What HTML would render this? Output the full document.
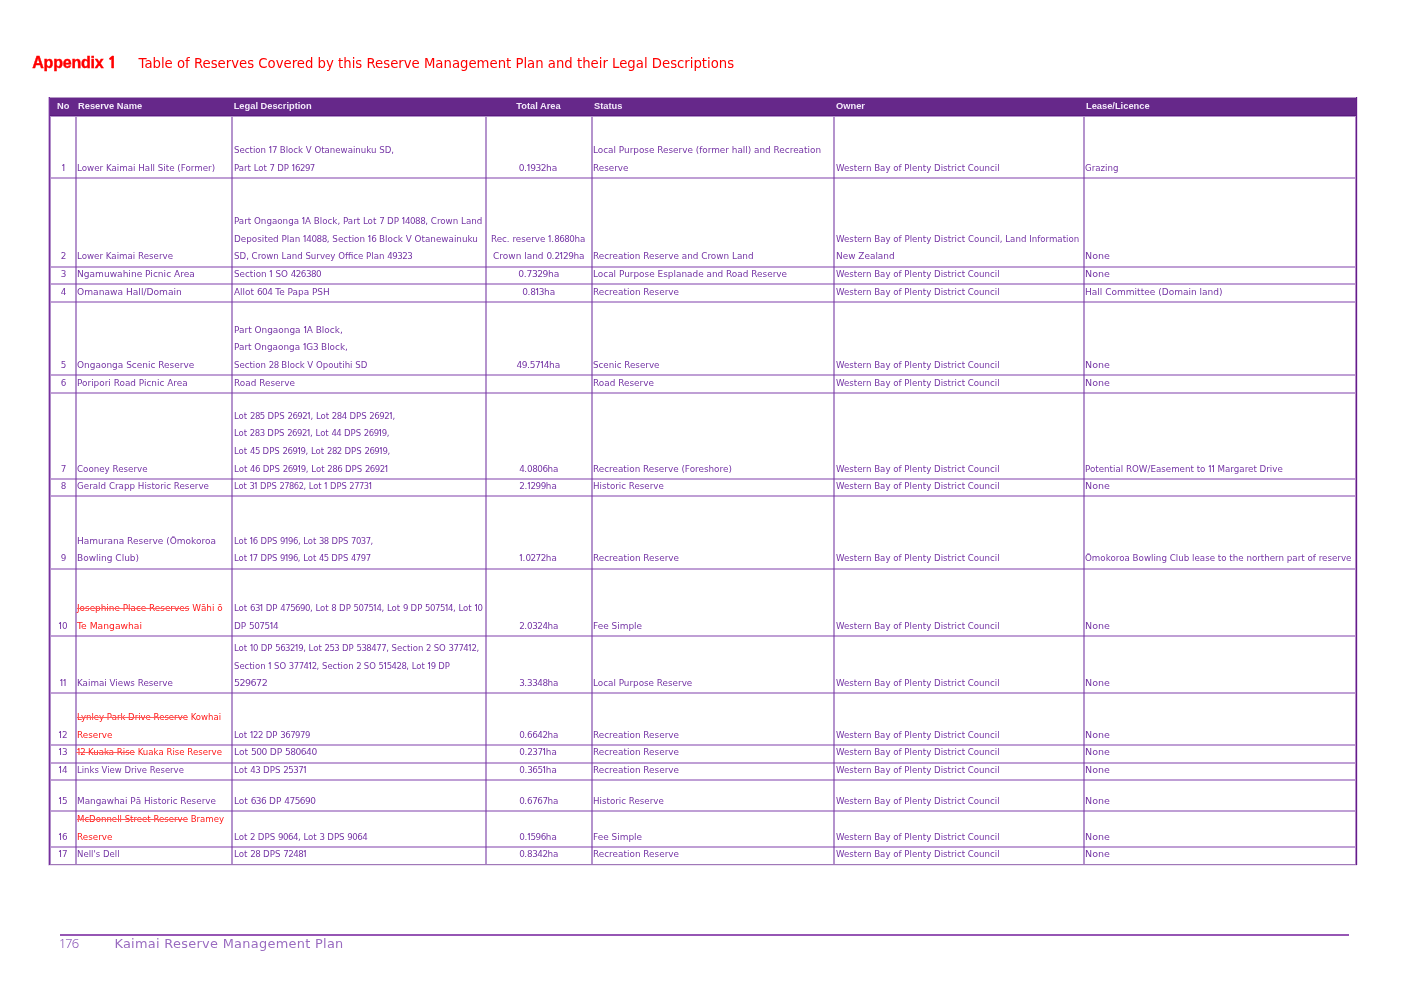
<!DOCTYPE html>
<html><head><meta charset="utf-8"><title>Appendix 1 - Table of Reserves</title>
<style>
html,body{margin:0;padding:0;background:#fff;}
body{width:1409px;height:996px;position:relative;overflow:hidden;}
.h1{position:absolute;left:32.3px;font-family:"Liberation Sans",sans-serif;font-weight:bold;color:#ff0000;font-size:16px;white-space:nowrap;-webkit-text-stroke:0.4px #ff0000;}
.h1o{font-family:"NanumGothic","Liberation Sans",sans-serif;font-weight:800;line-height:0;}
.h2{position:absolute;left:138.5px;font-family:"DejaVu Sans",sans-serif;color:#ff0000;font-size:13.25px;white-space:nowrap;}
.hd{position:absolute;left:48px;top:98px;width:1310px;height:17px;background:#66288a;}
.hdt{position:absolute;left:48px;top:97px;width:1310px;height:1px;background:#b69ac6;}
.hdl{position:absolute;left:48px;top:115px;width:1310px;height:1px;background:#5a1a7e;}
.hdl2{position:absolute;left:48px;top:116px;width:1310px;height:1px;background:#b193c9;}
.th{position:absolute;font-family:"Liberation Sans",sans-serif;font-weight:bold;font-size:9.3px;color:#f3eafa;white-space:nowrap;line-height:12px;}
.vl{position:absolute;width:2px;background:rgba(112,48,160,0.52);}
.hl{position:absolute;height:2px;background:rgba(120,50,165,0.47);}
.bd{position:absolute;background:#6e2d94;}
.c{position:absolute;font-family:"DejaVu Sans",sans-serif;font-size:8.0px;line-height:17.6px;color:#7535a5;white-space:nowrap;}
.ln{display:inline-block;--ls:0px;--sx:1.1;letter-spacing:var(--ls);transform:scaleX(var(--sx));transform-origin:0 0;}
.ctr .ln{transform-origin:50% 0;}
.ctr{text-align:center;}
.n{letter-spacing:calc(var(--ls) - 0.45px);}
.o{font-family:"NanumGothic","DejaVu Sans",sans-serif;font-weight:700;font-size:7.9px;margin-left:-0.7px;letter-spacing:calc(var(--ls) - 1.1px);}
.red{color:#ff1a1a;}
.red s{text-decoration-thickness:0.5px;text-decoration-color:#ff5a5a;}
.ft{position:absolute;font-family:"DejaVu Sans",sans-serif;font-size:12.9px;color:#9a6cc0;white-space:nowrap;line-height:16px;}
.fl{position:absolute;left:60px;top:933.7px;width:1289px;height:2.2px;background:#9656b4;}
</style></head><body>
<div class="h1" style="top:54.46px;line-height:18px;letter-spacing:-0.23px">Appendix <span class="h1o">1</span></div>
<div class="h2" style="top:56.22px;line-height:16px">Table of Reserves Covered by this Reserve Management Plan and their Legal Descriptions</div>
<div class="hdt"></div><div class="hd"></div><div class="hdl"></div><div class="hdl2"></div>
<div class="th" style="top:99.58px;left:57px">No</div>
<div class="th" style="top:99.58px;left:78px">Reserve Name</div>
<div class="th" style="top:99.58px;left:233.7px">Legal Description</div>
<div class="th" style="top:99.58px;left:485.5px;width:106.0px;text-align:center">Total Area</div>
<div class="th" style="top:99.58px;left:594px">Status</div>
<div class="th" style="top:99.58px;left:836px">Owner</div>
<div class="th" style="top:99.58px;left:1086px">Lease/Licence</div>
<div class="vl" style="left:75px;top:117px;height:747px"></div>
<div class="vl" style="left:231px;top:117px;height:747px"></div>
<div class="vl" style="left:485px;top:117px;height:747px"></div>
<div class="vl" style="left:591px;top:117px;height:747px"></div>
<div class="vl" style="left:833px;top:117px;height:747px"></div>
<div class="vl" style="left:1083px;top:117px;height:747px"></div>
<div class="hl" style="left:50px;top:177px;width:1305px"></div>
<div class="hl" style="left:50px;top:266px;width:1305px"></div>
<div class="hl" style="left:50px;top:283px;width:1305px"></div>
<div class="hl" style="left:50px;top:301px;width:1305px"></div>
<div class="hl" style="left:50px;top:374px;width:1305px"></div>
<div class="hl" style="left:50px;top:392px;width:1305px"></div>
<div class="hl" style="left:50px;top:478px;width:1305px"></div>
<div class="hl" style="left:50px;top:495px;width:1305px"></div>
<div class="hl" style="left:50px;top:568px;width:1305px"></div>
<div class="hl" style="left:50px;top:635px;width:1305px"></div>
<div class="hl" style="left:50px;top:692px;width:1305px"></div>
<div class="hl" style="left:50px;top:744px;width:1305px"></div>
<div class="hl" style="left:50px;top:762px;width:1305px"></div>
<div class="hl" style="left:50px;top:779px;width:1305px"></div>
<div class="hl" style="left:50px;top:810px;width:1305px"></div>
<div class="hl" style="left:50px;top:846px;width:1305px"></div>
<div class="bd" style="left:48px;top:97px;width:1px;height:769px;background:#cdb4dc"></div>
<div class="bd" style="left:49px;top:97px;width:1px;height:769px;background:#76309e"></div>
<div class="bd" style="left:50px;top:117px;width:1px;height:747px;background:#b08cc8"></div>
<div class="bd" style="left:1355px;top:117px;width:1px;height:747px;background:#b48cc8"></div>
<div class="bd" style="left:1356px;top:97px;width:1px;height:768px;background:#641c8a"></div>
<div class="bd" style="left:1357px;top:97px;width:1px;height:768px;background:#e6d8ee"></div>
<div class="bd" style="left:50px;top:864px;width:1306px;height:1px;background:#a078b8"></div>
<div class="bd" style="left:48px;top:865px;width:1309px;height:1px;background:#ece2f2"></div>
<div class="c ctr" style="left:49.5px;width:27.0px;top:160.03px"><span class="ln" style="--sx:1.1000"><span class="n"><span class="o">1</span></span></span></div>
<div class="c" style="left:77.4px;top:160.03px"><span class="ln" style="--sx:1.0904">Lower Kaimai Hall Site (Former)</span></div>
<div class="c" style="left:233.5px;top:142.43px"><span class="ln" style="--sx:1.0772">Section <span class="n"><span class="o">1</span>7</span> Block V Otanewainuku SD,</span><br><span class="ln" style="--sx:1.0705">Part Lot <span class="n">7</span> DP <span class="n"><span class="o">1</span>6297</span></span></div>
<div class="c ctr" style="left:485.5px;width:106.0px;top:160.03px"><span class="ln" style="--sx:1.1370"><span class="n">0</span>.<span class="n"><span class="o">1</span>932</span>ha</span></div>
<div class="c" style="left:593.0px;top:142.43px"><span class="ln" style="--sx:1.1090">Local Purpose Reserve (former hall) and Recreation</span><br><span class="ln" style="--sx:1.1008">Reserve</span></div>
<div class="c" style="left:835.5px;top:160.03px"><span class="ln" style="--sx:1.0801">Western Bay of Plenty District Council</span></div>
<div class="c" style="left:1085.4px;top:160.03px"><span class="ln" style="--sx:1.0813">Grazing</span></div>
<div class="c ctr" style="left:49.5px;width:27.0px;top:248.38px"><span class="ln" style="--sx:1.1000"><span class="n">2</span></span></div>
<div class="c" style="left:77.4px;top:248.38px"><span class="ln" style="--sx:1.0862">Lower Kaimai Reserve</span></div>
<div class="c" style="left:233.5px;top:213.18px"><span class="ln" style="--sx:1.0902">Part Ongaonga <span class="n"><span class="o">1</span></span>A Block, Part Lot <span class="n">7</span> DP <span class="n"><span class="o">1</span>4088</span>, Crown Land</span><br><span class="ln" style="--sx:1.1008">Deposited Plan <span class="n"><span class="o">1</span>4088</span>, Section <span class="n"><span class="o">1</span>6</span> Block V Otanewainuku</span><br><span class="ln" style="--sx:1.0794">SD, Crown Land Survey Office Plan <span class="n">49323</span></span></div>
<div class="c ctr" style="left:485.5px;width:106.0px;top:230.78px"><span class="ln" style="--sx:1.0931">Rec. reserve <span class="n"><span class="o">1</span></span>.<span class="n">8680</span>ha</span><br><span class="ln" style="--sx:1.1196">Crown land <span class="n">0</span>.<span class="n">2<span class="o">1</span>29</span>ha</span></div>
<div class="c" style="left:593.0px;top:248.38px"><span class="ln" style="--sx:1.1084">Recreation Reserve and Crown Land</span></div>
<div class="c" style="left:835.5px;top:230.78px"><span class="ln" style="--sx:1.0813">Western Bay of Plenty District Council, Land Information</span><br><span class="ln" style="--sx:1.1158">New Zealand</span></div>
<div class="c" style="left:1085.4px;top:248.38px"><span class="ln" style="--sx:1.1912">None</span></div>
<div class="c ctr" style="left:49.5px;width:27.0px;top:265.93px"><span class="ln" style="--sx:1.1000"><span class="n">3</span></span></div>
<div class="c" style="left:77.4px;top:265.93px"><span class="ln" style="--sx:1.1330">Ngamuwahine Picnic Area</span></div>
<div class="c" style="left:233.5px;top:265.93px"><span class="ln" style="--sx:1.0953">Section <span class="n"><span class="o">1</span></span> SO <span class="n">426380</span></span></div>
<div class="c ctr" style="left:485.5px;width:106.0px;top:265.93px"><span class="ln" style="--sx:1.1475"><span class="n">0</span>.<span class="n">7329</span>ha</span></div>
<div class="c" style="left:593.0px;top:265.93px"><span class="ln" style="--sx:1.1138">Local Purpose Esplanade and Road Reserve</span></div>
<div class="c" style="left:835.5px;top:265.93px"><span class="ln" style="--sx:1.0801">Western Bay of Plenty District Council</span></div>
<div class="c" style="left:1085.4px;top:265.93px"><span class="ln" style="--sx:1.1912">None</span></div>
<div class="c ctr" style="left:49.5px;width:27.0px;top:283.63px"><span class="ln" style="--sx:1.1000"><span class="n">4</span></span></div>
<div class="c" style="left:77.4px;top:283.63px"><span class="ln" style="--sx:1.1392">Omanawa Hall/Domain</span></div>
<div class="c" style="left:233.5px;top:283.63px"><span class="ln" style="--sx:1.1165">Allot <span class="n">604</span> Te Papa PSH</span></div>
<div class="c ctr" style="left:485.5px;width:106.0px;top:283.63px"><span class="ln" style="--sx:1.1223"><span class="n">0</span>.<span class="n">8<span class="o">1</span>3</span>ha</span></div>
<div class="c" style="left:593.0px;top:283.63px"><span class="ln" style="--sx:1.1105">Recreation Reserve</span></div>
<div class="c" style="left:835.5px;top:283.63px"><span class="ln" style="--sx:1.0801">Western Bay of Plenty District Council</span></div>
<div class="c" style="left:1085.4px;top:283.63px"><span class="ln" style="--sx:1.1280">Hall Committee (Domain land)</span></div>
<div class="c ctr" style="left:49.5px;width:27.0px;top:357.03px"><span class="ln" style="--sx:1.1000"><span class="n">5</span></span></div>
<div class="c" style="left:77.4px;top:357.03px"><span class="ln" style="--sx:1.1210">Ongaonga Scenic Reserve</span></div>
<div class="c" style="left:233.5px;top:321.83px"><span class="ln" style="--sx:1.1168">Part Ongaonga <span class="n"><span class="o">1</span></span>A Block,</span><br><span class="ln" style="--sx:1.1081">Part Ongaonga <span class="n"><span class="o">1</span></span>G<span class="n">3</span> Block,</span><br><span class="ln" style="--sx:1.0742">Section <span class="n">28</span> Block V Opoutihi SD</span></div>
<div class="c ctr" style="left:485.5px;width:106.0px;top:357.03px"><span class="ln" style="--sx:1.1316"><span class="n">49</span>.<span class="n">57<span class="o">1</span>4</span>ha</span></div>
<div class="c" style="left:593.0px;top:357.03px"><span class="ln" style="--sx:1.0934">Scenic Reserve</span></div>
<div class="c" style="left:835.5px;top:357.03px"><span class="ln" style="--sx:1.0801">Western Bay of Plenty District Council</span></div>
<div class="c" style="left:1085.4px;top:357.03px"><span class="ln" style="--sx:1.1912">None</span></div>
<div class="c ctr" style="left:49.5px;width:27.0px;top:374.88px"><span class="ln" style="--sx:1.1000"><span class="n">6</span></span></div>
<div class="c" style="left:77.4px;top:374.88px"><span class="ln" style="--sx:1.1121">Poripori Road Picnic Area</span></div>
<div class="c" style="left:233.5px;top:374.88px"><span class="ln" style="--sx:1.1114">Road Reserve</span></div>
<div class="c" style="left:593.0px;top:374.88px"><span class="ln" style="--sx:1.1114">Road Reserve</span></div>
<div class="c" style="left:835.5px;top:374.88px"><span class="ln" style="--sx:1.0801">Western Bay of Plenty District Council</span></div>
<div class="c" style="left:1085.4px;top:374.88px"><span class="ln" style="--sx:1.1912">None</span></div>
<div class="c ctr" style="left:49.5px;width:27.0px;top:460.53px"><span class="ln" style="--sx:1.1000"><span class="n">7</span></span></div>
<div class="c" style="left:77.4px;top:460.53px"><span class="ln" style="--sx:1.0878">Cooney Reserve</span></div>
<div class="c" style="left:233.5px;top:407.73px"><span class="ln" style="--sx:1.0692">Lot <span class="n">285</span> DPS <span class="n">2692<span class="o">1</span></span>, Lot <span class="n">284</span> DPS <span class="n">2692<span class="o">1</span></span>,</span><br><span class="ln" style="--sx:1.0642">Lot <span class="n">283</span> DPS <span class="n">2692<span class="o">1</span></span>, Lot <span class="n">44</span> DPS <span class="n">269<span class="o">1</span>9</span>,</span><br><span class="ln" style="--sx:1.0696">Lot <span class="n">45</span> DPS <span class="n">269<span class="o">1</span>9</span>, Lot <span class="n">282</span> DPS <span class="n">269<span class="o">1</span>9</span>,</span><br><span class="ln" style="--sx:1.0732">Lot <span class="n">46</span> DPS <span class="n">269<span class="o">1</span>9</span>, Lot <span class="n">286</span> DPS <span class="n">2692<span class="o">1</span></span></span></div>
<div class="c ctr" style="left:485.5px;width:106.0px;top:460.53px"><span class="ln" style="--sx:1.1000"><span class="n">4</span>.<span class="n">0806</span>ha</span></div>
<div class="c" style="left:593.0px;top:460.53px"><span class="ln" style="--sx:1.1048">Recreation Reserve (Foreshore)</span></div>
<div class="c" style="left:835.5px;top:460.53px"><span class="ln" style="--sx:1.0801">Western Bay of Plenty District Council</span></div>
<div class="c" style="left:1085.4px;top:460.53px"><span class="ln" style="--sx:1.0889">Potential ROW/Easement to <span class="n"><span class="o">1</span><span class="o">1</span></span> Margaret Drive</span></div>
<div class="c ctr" style="left:49.5px;width:27.0px;top:478.13px"><span class="ln" style="--sx:1.1000"><span class="n">8</span></span></div>
<div class="c" style="left:77.4px;top:478.13px"><span class="ln" style="--sx:1.0933">Gerald Crapp Historic Reserve</span></div>
<div class="c" style="left:233.5px;top:478.13px"><span class="ln" style="--sx:1.0389">Lot <span class="n">3<span class="o">1</span></span> DPS <span class="n">27862</span>, Lot <span class="n"><span class="o">1</span></span> DPS <span class="n">2773<span class="o">1</span></span></span></div>
<div class="c ctr" style="left:485.5px;width:106.0px;top:478.13px"><span class="ln" style="--sx:1.1000"><span class="n">2</span>.<span class="n"><span class="o">1</span>299</span>ha</span></div>
<div class="c" style="left:593.0px;top:478.13px"><span class="ln" style="--sx:1.0874">Historic Reserve</span></div>
<div class="c" style="left:835.5px;top:478.13px"><span class="ln" style="--sx:1.0801">Western Bay of Plenty District Council</span></div>
<div class="c" style="left:1085.4px;top:478.13px"><span class="ln" style="--sx:1.1912">None</span></div>
<div class="c ctr" style="left:49.5px;width:27.0px;top:550.23px"><span class="ln" style="--sx:1.1000"><span class="n">9</span></span></div>
<div class="c" style="left:77.4px;top:532.63px"><span class="ln" style="--sx:1.1262">Hamurana Reserve (Ōmokoroa</span><br><span class="ln" style="--sx:1.1260">Bowling Club)</span></div>
<div class="c" style="left:233.5px;top:532.63px"><span class="ln" style="--sx:1.0542">Lot <span class="n"><span class="o">1</span>6</span> DPS <span class="n">9<span class="o">1</span>96</span>, Lot <span class="n">38</span> DPS <span class="n">7037</span>,</span><br><span class="ln" style="--sx:1.0535">Lot <span class="n"><span class="o">1</span>7</span> DPS <span class="n">9<span class="o">1</span>96</span>, Lot <span class="n">45</span> DPS <span class="n">4797</span></span></div>
<div class="c ctr" style="left:485.5px;width:106.0px;top:550.23px"><span class="ln" style="--sx:1.1000"><span class="n"><span class="o">1</span></span>.<span class="n">0272</span>ha</span></div>
<div class="c" style="left:593.0px;top:550.23px"><span class="ln" style="--sx:1.1105">Recreation Reserve</span></div>
<div class="c" style="left:835.5px;top:550.23px"><span class="ln" style="--sx:1.0801">Western Bay of Plenty District Council</span></div>
<div class="c" style="left:1085.4px;top:550.23px"><span class="ln" style="--sx:1.0892">Ōmokoroa Bowling Club lease to the northern part of reserve</span></div>
<div class="c ctr" style="left:49.5px;width:27.0px;top:618.03px"><span class="ln" style="--sx:1.1000"><span class="n"><span class="o">1</span>0</span></span></div>
<div class="c" style="left:77.4px;top:600.43px"><span class="ln" style="--sx:1.1077"><span class="red"><s>Josephine Place Reserves</s> Wāhi ō</span></span><br><span class="ln" style="--sx:1.1498"><span class="red">Te Mangawhai</span></span></div>
<div class="c" style="left:233.5px;top:600.43px"><span class="ln" style="--sx:1.0690">Lot <span class="n">63<span class="o">1</span></span> DP <span class="n">475690</span>, Lot <span class="n">8</span> DP <span class="n">5075<span class="o">1</span>4</span>, Lot <span class="n">9</span> DP <span class="n">5075<span class="o">1</span>4</span>, Lot <span class="n"><span class="o">1</span>0</span></span><br><span class="ln" style="--sx:1.1105">DP <span class="n">5075<span class="o">1</span>4</span></span></div>
<div class="c ctr" style="left:485.5px;width:106.0px;top:618.03px"><span class="ln" style="--sx:1.1000"><span class="n">2</span>.<span class="n">0324</span>ha</span></div>
<div class="c" style="left:593.0px;top:618.03px"><span class="ln" style="--sx:1.1189">Fee Simple</span></div>
<div class="c" style="left:835.5px;top:618.03px"><span class="ln" style="--sx:1.0801">Western Bay of Plenty District Council</span></div>
<div class="c" style="left:1085.4px;top:618.03px"><span class="ln" style="--sx:1.1912">None</span></div>
<div class="c ctr" style="left:49.5px;width:27.0px;top:675.18px"><span class="ln" style="--sx:1.1000"><span class="n"><span class="o">1</span><span class="o">1</span></span></span></div>
<div class="c" style="left:77.4px;top:675.18px"><span class="ln" style="--sx:1.0956">Kaimai Views Reserve</span></div>
<div class="c" style="left:233.5px;top:639.98px"><span class="ln" style="--sx:1.0667">Lot <span class="n"><span class="o">1</span>0</span> DP <span class="n">5632<span class="o">1</span>9</span>, Lot <span class="n">253</span> DP <span class="n">538477</span>, Section <span class="n">2</span> SO <span class="n">3774<span class="o">1</span>2</span>,</span><br><span class="ln" style="--sx:1.0599">Section <span class="n"><span class="o">1</span></span> SO <span class="n">3774<span class="o">1</span>2</span>, Section <span class="n">2</span> SO <span class="n">5<span class="o">1</span>5428</span>, Lot <span class="n"><span class="o">1</span>9</span> DP</span><br><span class="ln" style="--sx:1.1918"><span class="n">529672</span></span></div>
<div class="c ctr" style="left:485.5px;width:106.0px;top:675.18px"><span class="ln" style="--sx:1.1000"><span class="n">3</span>.<span class="n">3348</span>ha</span></div>
<div class="c" style="left:593.0px;top:675.18px"><span class="ln" style="--sx:1.1022">Local Purpose Reserve</span></div>
<div class="c" style="left:835.5px;top:675.18px"><span class="ln" style="--sx:1.0801">Western Bay of Plenty District Council</span></div>
<div class="c" style="left:1085.4px;top:675.18px"><span class="ln" style="--sx:1.1912">None</span></div>
<div class="c ctr" style="left:49.5px;width:27.0px;top:726.73px"><span class="ln" style="--sx:1.1000"><span class="n"><span class="o">1</span>2</span></span></div>
<div class="c" style="left:77.4px;top:709.13px"><span class="ln" style="--sx:1.0688"><span class="red"><s>Lynley Park Drive Reserve</s> Kowhai</span></span><br><span class="ln" style="--sx:1.1008"><span class="red">Reserve</span></span></div>
<div class="c" style="left:233.5px;top:726.73px"><span class="ln" style="--sx:1.0688">Lot <span class="n"><span class="o">1</span>22</span> DP <span class="n">367979</span></span></div>
<div class="c ctr" style="left:485.5px;width:106.0px;top:726.73px"><span class="ln" style="--sx:1.1000"><span class="n">0</span>.<span class="n">6642</span>ha</span></div>
<div class="c" style="left:593.0px;top:726.73px"><span class="ln" style="--sx:1.1105">Recreation Reserve</span></div>
<div class="c" style="left:835.5px;top:726.73px"><span class="ln" style="--sx:1.0801">Western Bay of Plenty District Council</span></div>
<div class="c" style="left:1085.4px;top:726.73px"><span class="ln" style="--sx:1.1912">None</span></div>
<div class="c ctr" style="left:49.5px;width:27.0px;top:744.43px"><span class="ln" style="--sx:1.1000"><span class="n"><span class="o">1</span>3</span></span></div>
<div class="c" style="left:77.4px;top:744.43px"><span class="ln" style="--sx:1.0761"><span class="red"><s><span class="n"><span class="o">1</span>2</span> Kuaka Rise</s> Kuaka Rise Reserve</span></span></div>
<div class="c" style="left:233.5px;top:744.43px"><span class="ln" style="--sx:1.1364">Lot <span class="n">500</span> DP <span class="n">580640</span></span></div>
<div class="c ctr" style="left:485.5px;width:106.0px;top:744.43px"><span class="ln" style="--sx:1.1000"><span class="n">0</span>.<span class="n">237<span class="o">1</span></span>ha</span></div>
<div class="c" style="left:593.0px;top:744.43px"><span class="ln" style="--sx:1.1105">Recreation Reserve</span></div>
<div class="c" style="left:835.5px;top:744.43px"><span class="ln" style="--sx:1.0801">Western Bay of Plenty District Council</span></div>
<div class="c" style="left:1085.4px;top:744.43px"><span class="ln" style="--sx:1.1912">None</span></div>
<div class="c ctr" style="left:49.5px;width:27.0px;top:762.13px"><span class="ln" style="--sx:1.1000"><span class="n"><span class="o">1</span>4</span></span></div>
<div class="c" style="left:77.4px;top:762.13px"><span class="ln" style="--sx:1.0618">Links View Drive Reserve</span></div>
<div class="c" style="left:233.5px;top:762.13px"><span class="ln" style="--sx:1.0850">Lot <span class="n">43</span> DPS <span class="n">2537<span class="o">1</span></span></span></div>
<div class="c ctr" style="left:485.5px;width:106.0px;top:762.13px"><span class="ln" style="--sx:1.1000"><span class="n">0</span>.<span class="n">365<span class="o">1</span></span>ha</span></div>
<div class="c" style="left:593.0px;top:762.13px"><span class="ln" style="--sx:1.1105">Recreation Reserve</span></div>
<div class="c" style="left:835.5px;top:762.13px"><span class="ln" style="--sx:1.0801">Western Bay of Plenty District Council</span></div>
<div class="c" style="left:1085.4px;top:762.13px"><span class="ln" style="--sx:1.1912">None</span></div>
<div class="c ctr" style="left:49.5px;width:27.0px;top:793.23px"><span class="ln" style="--sx:1.1000"><span class="n"><span class="o">1</span>5</span></span></div>
<div class="c" style="left:77.4px;top:793.23px"><span class="ln" style="--sx:1.1080">Mangawhai Pā Historic Reserve</span></div>
<div class="c" style="left:233.5px;top:793.23px"><span class="ln" style="--sx:1.1195">Lot <span class="n">636</span> DP <span class="n">475690</span></span></div>
<div class="c ctr" style="left:485.5px;width:106.0px;top:793.23px"><span class="ln" style="--sx:1.1000"><span class="n">0</span>.<span class="n">6767</span>ha</span></div>
<div class="c" style="left:593.0px;top:793.23px"><span class="ln" style="--sx:1.0874">Historic Reserve</span></div>
<div class="c" style="left:835.5px;top:793.23px"><span class="ln" style="--sx:1.0801">Western Bay of Plenty District Council</span></div>
<div class="c" style="left:1085.4px;top:793.23px"><span class="ln" style="--sx:1.1912">None</span></div>
<div class="c ctr" style="left:49.5px;width:27.0px;top:828.63px"><span class="ln" style="--sx:1.1000"><span class="n"><span class="o">1</span>6</span></span></div>
<div class="c" style="left:77.4px;top:811.03px"><span class="ln" style="--sx:1.0725"><span class="red"><s>McDonnell Street Reserve</s> Bramey</span></span><br><span class="ln" style="--sx:1.1008"><span class="red">Reserve</span></span></div>
<div class="c" style="left:233.5px;top:828.63px"><span class="ln" style="--sx:1.0789">Lot <span class="n">2</span> DPS <span class="n">9064</span>, Lot <span class="n">3</span> DPS <span class="n">9064</span></span></div>
<div class="c ctr" style="left:485.5px;width:106.0px;top:828.63px"><span class="ln" style="--sx:1.1000"><span class="n">0</span>.<span class="n"><span class="o">1</span>596</span>ha</span></div>
<div class="c" style="left:593.0px;top:828.63px"><span class="ln" style="--sx:1.1189">Fee Simple</span></div>
<div class="c" style="left:835.5px;top:828.63px"><span class="ln" style="--sx:1.0801">Western Bay of Plenty District Council</span></div>
<div class="c" style="left:1085.4px;top:828.63px"><span class="ln" style="--sx:1.1912">None</span></div>
<div class="c ctr" style="left:49.5px;width:27.0px;top:846.13px"><span class="ln" style="--sx:1.1000"><span class="n"><span class="o">1</span>7</span></span></div>
<div class="c" style="left:77.4px;top:846.13px"><span class="ln" style="--sx:1.0689">Nell's Dell</span></div>
<div class="c" style="left:233.5px;top:846.13px"><span class="ln" style="--sx:1.0850">Lot <span class="n">28</span> DPS <span class="n">7248<span class="o">1</span></span></span></div>
<div class="c ctr" style="left:485.5px;width:106.0px;top:846.13px"><span class="ln" style="--sx:1.1000"><span class="n">0</span>.<span class="n">8342</span>ha</span></div>
<div class="c" style="left:593.0px;top:846.13px"><span class="ln" style="--sx:1.1105">Recreation Reserve</span></div>
<div class="c" style="left:835.5px;top:846.13px"><span class="ln" style="--sx:1.0801">Western Bay of Plenty District Council</span></div>
<div class="c" style="left:1085.4px;top:846.13px"><span class="ln" style="--sx:1.1912">None</span></div>
<div class="fl"></div>
<div class="ft" style="left:58.6px;top:936.44px;font-family:NanumGothic,'DejaVu Sans',sans-serif;letter-spacing:-1.3px">176</div>
<div class="ft" style="left:114.4px;top:936.44px;letter-spacing:0.3px">Kaimai Reserve Management Plan</div>
</body></html>
